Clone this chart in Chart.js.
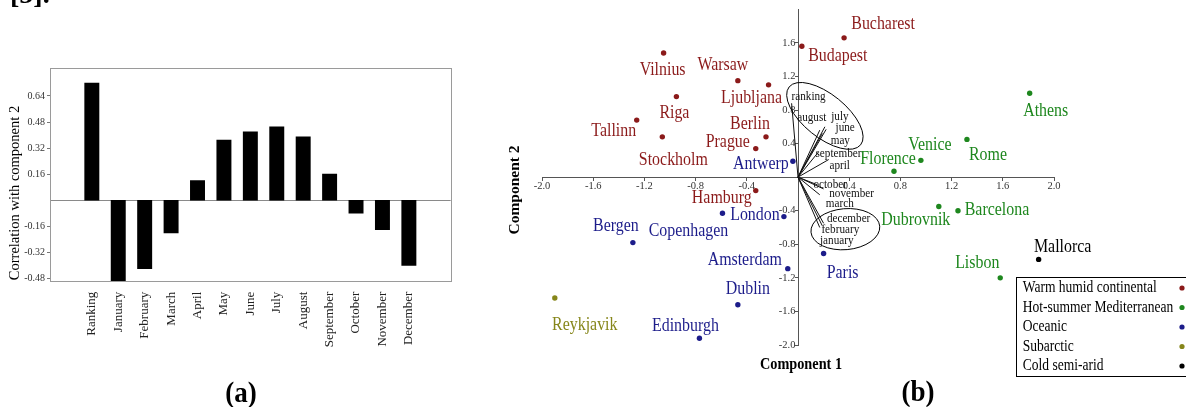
<!DOCTYPE html>
<html>
<head>
<meta charset="utf-8">
<script src="https://cdn.jsdelivr.net/npm/chart.js@4.4.0/dist/chart.umd.min.js"></script>
<style>
  html, body { margin: 0; padding: 0; background: #fff; }
  body { width: 1186px; height: 407px; position: relative; overflow: hidden; }
  #wrapA { position: absolute; left: 0; top: 0; width: 470px; height: 407px; }
  #wrapB { position: absolute; left: 490px; top: 0; width: 696px; height: 407px; }
</style>
</head>
<body>
<div id="wrapA"><canvas id="chartA" width="470" height="407"></canvas></div>
<div id="wrapB"><canvas id="chartB" width="696" height="407"></canvas></div>
<script>
// Panel (a) ---------
const variables = ['Ranking', 'January', 'February', 'March', 'April', 'May', 'June',
                   'July', 'August', 'September', 'October', 'November', 'December'];
const correlations = [0.72, -0.52, -0.42, -0.20, 0.12, 0.37, 0.42, 0.45, 0.39, 0.16, -0.08, -0.18, -0.40];
const corrTicks = [-0.48, -0.32, -0.16, 0.16, 0.32, 0.48, 0.64];

// Panel (b) ---------
const climates = ['Warm humid continental', 'Hot-summer Mediterranean', 'Oceanic', 'Subarctic', 'Cold semi-arid'];
const cities = ['Vilnius', 'Warsaw', 'Ljubljana', 'Riga', 'Tallinn', 'Stockholm', 'Berlin', 'Prague',
                'Budapest', 'Bucharest', 'Hamburg', 'Antwerp', 'London', 'Copenhagen', 'Bergen',
                'Amsterdam', 'Dublin', 'Edinburgh', 'Paris', 'Reykjavik', 'Athens', 'Rome', 'Venice',
                'Florence', 'Dubrovnik', 'Barcelona', 'Lisbon', 'Mallorca'];
const cityX = [-1.05, -0.47, -0.23, -0.95, -1.26, -1.06, -0.25, -0.33,
               0.03, 0.36, -0.33, -0.04, -0.11, -0.59, -1.29,
               -0.08, -0.47, -0.77, 0.20, -1.90, 1.81, 1.32, 0.96,
               0.75, 1.10, 1.25, 1.58, 1.88];
const cityY = [1.48, 1.15, 1.10, 0.96, 0.68, 0.48, 0.48, 0.34,
               1.56, 1.66, -0.16, 0.19, -0.47, -0.43, -0.78,
               -1.09, -1.52, -1.92, -0.91, -1.44, 1.00, 0.45, 0.20,
               0.07, -0.35, -0.40, -1.20, -0.98];
const cityClimate = [0, 0, 0, 0, 0, 0, 0, 0, 0, 0, 0, 2, 2, 2, 2, 2, 2, 2, 2, 3, 1, 1, 1, 1, 1, 1, 1, 4];

const loadingNames = ['ranking', 'august', 'july', 'june', 'may', 'september', 'april',
                      'october', 'november', 'march', 'december', 'february', 'january'];
const loadingX = [-0.05, 0.17, 0.21, 0.22, 0.19, 0.16, 0.24, 0.15, 0.20, 0.17, 0.20, 0.19, 0.17];
const loadingY = [0.88, 0.56, 0.60, 0.57, 0.52, 0.30, 0.21, -0.09, -0.14, -0.21, -0.55, -0.58, -0.60];

const compTicksX = [-2.0, -1.6, -1.2, -0.8, -0.4, 0.4, 0.8, 1.2, 1.6, 2.0];
const compTicksY = [-2.0, -1.6, -1.2, -0.8, -0.4, 0.4, 0.8, 1.2, 1.6];

// Styles / label placement (pixels) ---------
const climateColors = ['#8b1a1a', '#1e871e', '#1c1c8a', '#86861a', '#000000'];
const cityLabelOffsets = [[-1, 17], [-15, -16], [-17, 13], [-2, 16], [-23, 11], [11, 23], [-16, -13], [-28, -7],
                          [36, 9], [39, -14], [-34, 7], [-32, 2], [-29, -2], [-34, 17], [-17, -17],
                          [-43, -9], [10, -16], [-14, -13], [19, 19], [30, 27], [16, 17], [21, 15], [9, -16],
                          [-6, -13], [-23, 13], [39, -1], [-23, -15], [24, -13]];
const loadingLabelOffsets = [[17, -7], [-8, -13], [15, -10], [19, -2], [18, 7], [20, 2], [11, 6],
                             [13, 0], [28, 5], [20, 9], [25, -5], [18, 4], [17, 13]];
// ellipse centre in data units, radii in pixels, rotation in degrees
const ellipses = [
    { x: 0.21, y: 0.73, rx: 46, ry: 21.5, rot: 39 },
    { x: 0.37, y: -0.62, rx: 34.5, ry: 20.5, rot: -5 }
];

const SERIF = '"Liberation Serif", "Times New Roman", serif';
Chart.defaults.font.family = SERIF;

// the source figure is squeezed sideways, so text is drawn taller than it is wide
function squeezedText(ctx, text, x, y, font, sx) {
    ctx.save();
    ctx.translate(x, y);
    ctx.scale(sx, 1);
    ctx.font = font;
    ctx.fillText(text, 0, 0);
    ctx.restore();
}

// Chart (a) ---------
const panelAExtras = {
    id: 'panelAExtras',
    beforeDatasetsDraw(chart) {
        const {ctx, chartArea, scales} = chart;
        ctx.save();
        ctx.strokeStyle = '#8a8a8a';
        ctx.lineWidth = 1;
        const y0 = Math.round(scales.y.getPixelForValue(0)) + 0.5;
        ctx.beginPath();
        ctx.moveTo(chartArea.left, y0);
        ctx.lineTo(chartArea.right, y0);
        ctx.stroke();
        ctx.restore();
    },
    afterDraw(chart) {
        const {ctx, chartArea} = chart;
        ctx.save();
        ctx.strokeStyle = '#9a9a9a';
        ctx.lineWidth = 1;
        ctx.strokeRect(Math.round(chartArea.left) + 0.5, Math.round(chartArea.top) + 0.5,
                       Math.round(chartArea.right - chartArea.left), Math.round(chartArea.bottom - chartArea.top));

        ctx.fillStyle = '#000';
        ctx.textAlign = 'center';
        ctx.textBaseline = 'middle';
        ctx.translate(15, 193);
        ctx.rotate(-Math.PI / 2);
        ctx.font = '14.5px ' + SERIF;
        ctx.fillText('Correlation with component 2', 0, 0);
        ctx.restore();

        ctx.save();
        ctx.fillStyle = '#000';
        ctx.textAlign = 'center';
        ctx.textBaseline = 'middle';
        squeezedText(ctx, '(a)', 241, 394, 'bold 30px ' + SERIF, 0.9);
        ctx.textAlign = 'left';
        ctx.textBaseline = 'alphabetic';
        ctx.font = 'bold 28px ' + SERIF;
        ctx.fillText('[5].', 10, 3);
        ctx.restore();
    }
};

new Chart(document.getElementById('chartA'), {
    type: 'bar',
    data: {
        datasets: [{
            data: variables.map((v, i) => ({ x: i, y: correlations[i] })),
            backgroundColor: '#000',
            borderWidth: 0,
            barThickness: 14.3
        }]
    },
    options: {
        responsive: false,
        animation: false,
        devicePixelRatio: 1,
        layout: { padding: { left: 0, right: 19.3, top: 68.3, bottom: 0 } },
        plugins: { legend: { display: false }, tooltip: { enabled: false } },
        scales: {
            x: {
                type: 'linear',
                min: -1,
                max: 13,
                afterBuildTicks: s => { s.ticks = variables.map((v, i) => ({ value: i })); },
                afterFit: s => { s.height = 125.3; },
                grid: { display: false, drawTicks: false },
                border: { display: false },
                ticks: {
                    callback: v => variables[v],
                    autoSkip: false,
                    minRotation: 90,
                    maxRotation: 90,
                    padding: 10,
                    color: '#222',
                    font: { size: 13 }
                }
            },
            y: {
                min: -0.5,
                max: 0.81,
                afterBuildTicks: s => { s.ticks = corrTicks.map(v => ({ value: v })); },
                afterFit: s => { s.width = 50; },
                grid: { drawOnChartArea: false, tickLength: 3, color: '#777' },
                border: { display: false },
                ticks: {
                    callback: v => v.toFixed(2),
                    padding: 2,
                    color: '#333',
                    font: { size: 10 }
                }
            }
        }
    },
    plugins: [panelAExtras]
});

// Chart (b) ---------
const panelBExtras = {
    id: 'panelBExtras',
    afterDatasetsDraw(chart) {
        const {ctx, scales} = chart;
        const xs = scales.x, ys = scales.y;
        ctx.save();

        // ellipses round the loading groups
        ctx.strokeStyle = '#000';
        ctx.lineWidth = 1;
        ellipses.forEach(e => {
            ctx.beginPath();
            ctx.ellipse(xs.getPixelForValue(e.x), ys.getPixelForValue(e.y), e.rx, e.ry,
                        e.rot * Math.PI / 180, 0, Math.PI * 2);
            ctx.stroke();
        });

        // loading labels
        ctx.fillStyle = '#111';
        ctx.textAlign = 'center';
        ctx.textBaseline = 'middle';
        loadingNames.forEach((name, i) => {
            const px = xs.getPixelForValue(loadingX[i]) + loadingLabelOffsets[i][0];
            const py = ys.getPixelForValue(loadingY[i]) + loadingLabelOffsets[i][1];
            squeezedText(ctx, name, px, py, '13px ' + SERIF, 0.86);
        });

        // city labels
        cities.forEach((name, i) => {
            ctx.fillStyle = climateColors[cityClimate[i]];
            const px = xs.getPixelForValue(cityX[i]) + cityLabelOffsets[i][0];
            const py = ys.getPixelForValue(cityY[i]) + cityLabelOffsets[i][1] + 0.5;
            squeezedText(ctx, name, px, py, '18.5px ' + SERIF, 0.86);
        });

        // axis titles
        ctx.fillStyle = '#000';
        squeezedText(ctx, 'Component 1', 311, 365, 'bold 17px ' + SERIF, 0.84);
        ctx.save();
        ctx.translate(25, 190);
        ctx.rotate(-Math.PI / 2);
        ctx.font = 'bold 15.5px ' + SERIF;
        ctx.fillText('Component 2', 0, 0);
        ctx.restore();

        // legend
        ctx.fillStyle = '#fff';
        ctx.fillRect(526, 277, 175, 99);
        ctx.strokeStyle = '#000';
        ctx.strokeRect(526.5, 277.5, 175, 99);
        ctx.textAlign = 'left';
        climates.forEach((name, i) => {
            const ly = 288 + i * 19.5;
            ctx.fillStyle = '#000';
            squeezedText(ctx, name, 532.7, ly, '16.5px ' + SERIF, 0.82);
            ctx.fillStyle = climateColors[i];
            ctx.beginPath();
            ctx.arc(692, ly, 2.6, 0, Math.PI * 2);
            ctx.fill();
        });

        // panel letter
        ctx.fillStyle = '#000';
        ctx.textAlign = 'center';
        squeezedText(ctx, '(b)', 428, 393, 'bold 30px ' + SERIF, 0.9);
        ctx.restore();
    }
};

const loadingSets = loadingNames.map((name, i) => ({
    type: 'scatter',
    label: name,
    data: [{ x: 0, y: 0 }, { x: loadingX[i], y: loadingY[i] }],
    showLine: true,
    borderColor: '#111',
    borderWidth: 1,
    pointRadius: 0,
    clip: false
}));

new Chart(document.getElementById('chartB'), {
    type: 'scatter',
    data: {
        datasets: [{
            label: 'cities',
            data: cities.map((c, i) => ({ x: cityX[i], y: cityY[i] })),
            pointRadius: 2.7,
            pointBackgroundColor: cityClimate.map(k => climateColors[k]),
            pointBorderWidth: 0,
            clip: false
        }].concat(loadingSets)
    },
    options: {
        responsive: false,
        animation: false,
        devicePixelRatio: 1,
        layout: { padding: { left: 52, right: 132, top: 9, bottom: 62 } },
        plugins: { legend: { display: false }, tooltip: { enabled: false } },
        scales: {
            x: {
                type: 'linear',
                min: -2,
                max: 2,
                position: { y: 0 },
                afterBuildTicks: s => { s.ticks = compTicksX.map(v => ({ value: v })); },
                afterFit: s => { s.height = 0; },
                grid: { drawOnChartArea: false, tickLength: 3, color: '#555' },
                border: { display: true, color: '#555', width: 1 },
                ticks: {
                    callback: v => v.toFixed(1),
                    padding: 0,
                    color: '#333',
                    font: { size: 10.5 }
                }
            },
            y: {
                type: 'linear',
                min: -2,
                max: 2,
                position: { x: 0 },
                afterBuildTicks: s => { s.ticks = compTicksY.map(v => ({ value: v })); },
                afterFit: s => { s.width = 0; },
                grid: { drawOnChartArea: false, tickLength: 3, color: '#555' },
                border: { display: true, color: '#555', width: 1 },
                ticks: {
                    callback: v => v.toFixed(1) + ' ',
                    color: '#333',
                    font: { size: 10.5 }
                }
            }
        }
    },
    plugins: [panelBExtras]
});
</script>
</body>
</html>
